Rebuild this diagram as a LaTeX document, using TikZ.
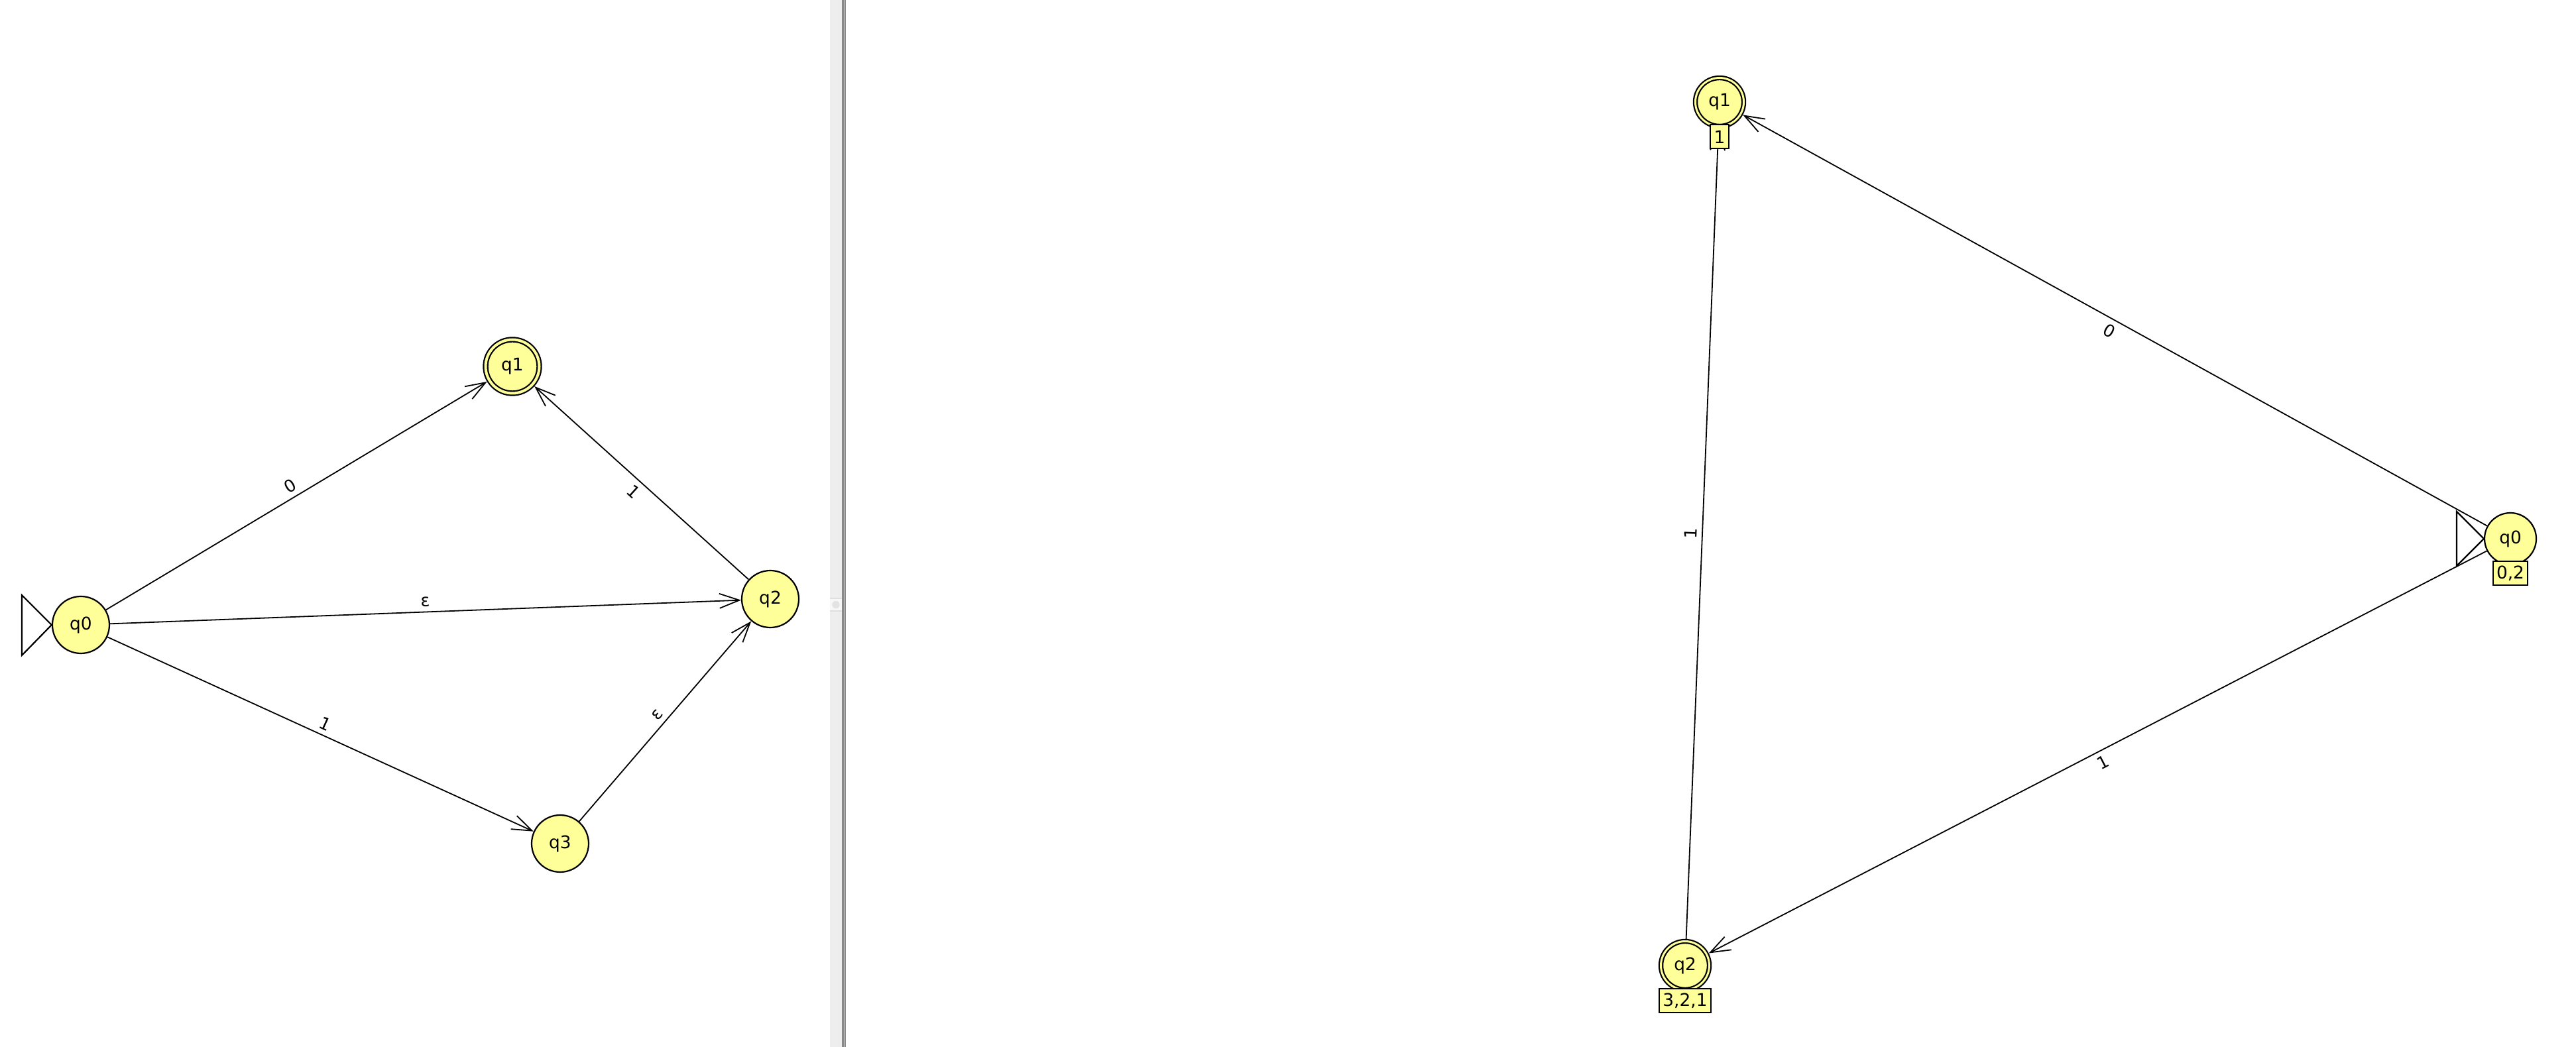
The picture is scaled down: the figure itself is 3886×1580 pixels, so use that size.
\documentclass[tikz,border=0pt]{standalone}
\usepackage{fontspec}
\setmainfont{DejaVu Sans}
\usetikzlibrary{arrows.meta,calc}
\definecolor{stfill}{RGB}{255,255,153}
\definecolor{band}{RGB}{238,238,238}
\definecolor{divdark}{RGB}{138,138,138}
\definecolor{divmid}{RGB}{205,205,205}
\begin{document}
\begin{tikzpicture}[x=0.25pt,y=-0.25pt,
  state/.style={circle, draw=black, fill=stfill, line width=0.55pt, inner sep=0pt, font=\fontsize{6.6}{7.5}\selectfont},
  lstate/.style={state, minimum size=21.5pt},
  rstate/.style={state, minimum size=19.5pt},
  lacc/.style={state, double=stfill, double distance=1pt, minimum size=20.25pt, outer sep=1.05pt},
  racc/.style={state, double=stfill, double distance=0.75pt, minimum size=18.25pt, outer sep=0.93pt},
  trans/.style={line width=0.45pt, -{Straight Barb[length=7.5pt,width=5.5pt,line width=0.45pt]}},
  elabel/.style={font=\fontsize{6.4}{7.5}\selectfont, sloped, inner sep=1pt},
  tag/.style={draw=black, fill=stfill, line width=0.5pt, rectangle, inner xsep=1.3pt, inner ysep=0pt, minimum height=9pt, font=\fontsize{6.6}{7.5}\selectfont},
  initmark/.style={draw=black, line width=0.55pt, line join=miter}
]
\useasboundingbox (0,0) rectangle (3886,1580);
\fill[white] (0,0) rectangle (3886,1580);

% divider between panes
\fill[band] (1252,0) rectangle (1270,1580);
\fill[divdark] (1270,0) rectangle (1276,1580);
\fill[divmid] (1272.6,0) rectangle (1273.8,1580);
\fill[white!97!black] (1252,903) rectangle (1270,922);
\draw[gray!25, line width=0.3pt] (1252,903) -- (1270,903) (1252,922) -- (1270,922);
\fill[gray!22] (1261,912.5) circle (5.7);

% left automaton
\node[lstate] (L0) at (122,943) {q0};
\node[lacc]   (L1) at (773,553) {q1};
\node[lstate] (L2) at (1162,904) {q2};
\node[lstate] (L3) at (845,1273) {q3};

\draw[trans] (L0) -- node[elabel, above=0.8pt] {0} (L1);
\draw[trans] (L0) -- node[elabel, above=0.8pt] {ε} (L2);
\draw[trans] (L0) -- node[elabel, above=0.8pt] {1} (L3);
\draw[trans] (L2) -- node[elabel, below=0.8pt] {1} (L1);
\draw[trans] (L3) -- node[elabel, above=0.8pt] {ε} (L2);

\draw[initmark] (L0.west) -- ++(-45,-45) -- ++(0,91) -- cycle;

% right automaton
\node[racc]   (R1) at (2594,154) {q1};
\node[rstate] (R0) at (3787,813) {q0};
\node[racc]   (R2) at (2542,1457) {q2};

\draw[trans] (R0) -- node[elabel, below=0.8pt] {0} (R1);
\draw[trans] (R0) -- node[elabel, below=0.8pt] {1} (R2);
\draw[trans] (R2) -- node[elabel, above=0.8pt] {1} (R1);

\draw[initmark] (R0.west) -- ++(-41,-41) -- ++(0,82) -- cycle;

\node[tag] (T1) at ($(R1.center)+(0,52.5)$) {1};
\node[tag] (T0) at ($(R0.center)+(0,52.5)$) {0,2};
\node[tag] (T2) at ($(R2.center)+(0,53)$) {3,2,1};
\end{tikzpicture}
\end{document}
